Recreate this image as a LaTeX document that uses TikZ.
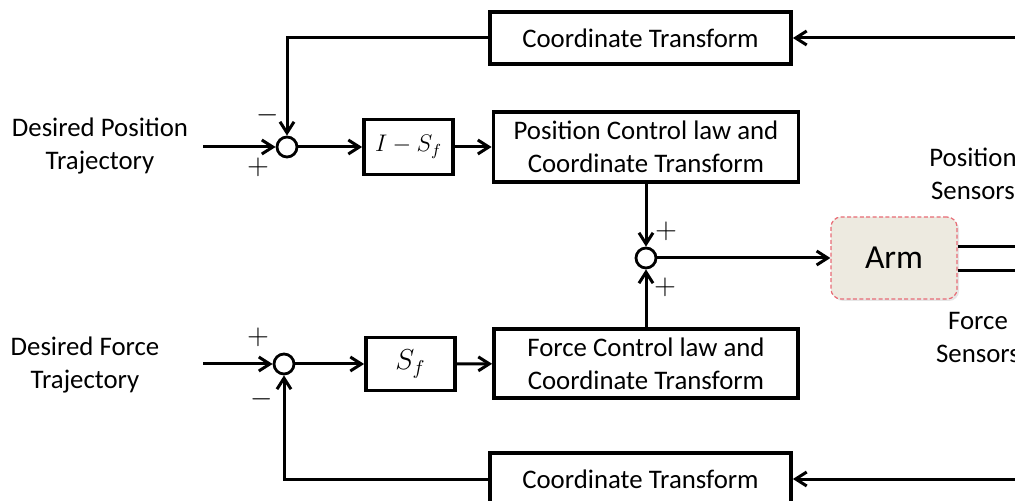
\documentclass[tikz,border=0pt]{standalone}
\usepackage{fontspec}
\setmainfont{Carlito}
\usetikzlibrary{arrows.meta, positioning, shadows}

\definecolor{armfill}{RGB}{237,234,224}
\definecolor{armedge}{RGB}{232,108,118}

\begin{document}
\begin{tikzpicture}[x=0.5pt, y=-0.5pt, >={Straight Barb[length=5.5pt, width=7pt]},
    font=\fontsize{13.4}{16.5}\selectfont,
    block/.style={rectangle, draw, line width=1.9pt, align=center, inner sep=0pt},
    sum/.style={circle, draw, line width=1.4pt, minimum size=10pt, inner sep=0pt},
    sign/.style={inner sep=0pt, font=\fontsize{14}{14}\selectfont},
    wire/.style={line width=1.5pt}]
    \clip (0,0) rectangle (1015,501);

    % summing junctions
    \node [sum] (sumPos) at (287,147) {};
    \node [sum] (sumArm) at (646,258) {};
    \node [sum] (sumFrc) at (284,364) {};

    % blocks
    \node [block, minimum width=150.5pt, minimum height=26pt] (ctTop) at (640.5,38) {Coordinate Transform};
    \node [block, minimum width=44.5pt, minimum height=27.5pt, font=\fontsize{12}{14}\selectfont] (selPos) at (408.5,147) {$I - S_f$};
    \node [block, minimum width=152.5pt, minimum height=35pt] (posCtl) at (646,147) {Position Control law and\\Coordinate Transform};
    \node [block, minimum width=44.5pt, minimum height=26.5pt, font=\fontsize{14}{16}\selectfont] (selFrc) at (410.5,364) {$S_f$};
    \node [block, minimum width=152pt, minimum height=34.5pt] (frcCtl) at (646,363.5) {Force Control law and\\Coordinate Transform};
    \node [block, minimum width=150.5pt, minimum height=26pt] (ctBot) at (640.5,479) {Coordinate Transform};
    \node [rectangle, rounded corners=5pt, fill=armfill, draw=armedge, line width=0.6pt,
        dash pattern=on 2pt off 1.2pt, minimum width=63pt, minimum height=41pt,
        drop shadow={opacity=0.2, shadow xshift=1pt, shadow yshift=-1pt},
        font=\fontsize{16.8}{18}\selectfont] (arm) at (894,258) {Arm};

    % texts
    \node [align=center] (desPos) at (100,146) {Desired Position\\Trajectory};
    \node [align=center] (desFrc) at (85,365) {Desired Force\\Trajectory};
    \node [align=center] (posSens) at (973,174) {Position\\Sensors};
    \node [align=center] (frcSens) at (978,338) {Force\\Sensors};

    % signs
    \node [sign] (sgnA) at (268,115) {$-$};
    \node [sign] (sgnB) at (258,167) {$+$};
    \node [sign] (sgnC) at (666,231) {$+$};
    \node [sign] (sgnD) at (665,287) {$+$};
    \node [sign] (sgnE) at (258,337) {$+$};
    \node [sign] (sgnF) at (262,399) {$-$};

    % free ends
    \coordinate (inPos) at (203,147);
    \coordinate (inFrc) at (203,364);
    \coordinate (fbPos) at (1015,38);
    \coordinate (fbFrc) at (1015,479);
    \coordinate (outPos) at (1015,247);
    \coordinate (outFrc) at (1015,271);

    % position loop
    \draw [wire, ->] (inPos) -- (sumPos);
    \draw [wire, ->] (fbPos) -- (ctTop);
    \draw [wire, ->] (ctTop.west) -| (sumPos.north);
    \draw [wire, ->] (sumPos) -- (selPos);
    \draw [wire, ->] (selPos) -- (posCtl);
    \draw [wire, ->] (posCtl) -- (sumArm);

    % force loop
    \draw [wire, ->] (inFrc) -- (sumFrc);
    \draw [wire, ->] (fbFrc) -- (ctBot);
    \draw [wire, ->] (ctBot.west) -| (sumFrc.south);
    \draw [wire, ->] (sumFrc) -- (selFrc);
    \draw [wire, ->] (selFrc) -- (frcCtl);
    \draw [wire, ->] (frcCtl) -- (sumArm);

    % arm
    \draw [wire, ->] (sumArm) -- (arm);
    \draw [wire] (outPos -| arm.east) -- (outPos);
    \draw [wire] (outFrc -| arm.east) -- (outFrc);
\end{tikzpicture}
\end{document}
